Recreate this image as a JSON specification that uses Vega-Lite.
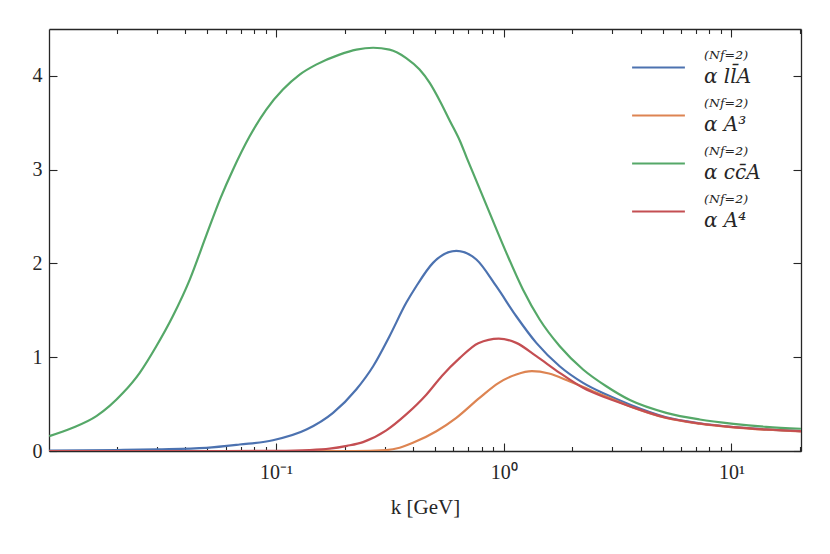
{
  "$schema": "https://vega.github.io/schema/vega-lite/v6.json",
  "width": 752,
  "height": 422,
  "autosize": {"type": "none"},
  "padding": {"left": 49, "top": 29, "right": 29, "bottom": 103},
  "config": {
    "font": "Liberation Serif",
    "view": {"stroke": null},
    "axis": {
      "grid": false,
      "domainColor": "#262626",
      "domainWidth": 1.3,
      "tickColor": "#262626",
      "tickWidth": 1.1,
      "labelColor": "#262626",
      "labelFontSize": 20,
      "labelFlush": false,
      "labelOverlap": false,
      "titleColor": "#262626",
      "titleFontWeight": "normal"
    }
  },
  "data": {
    "values": [
      {"s": "llA", "k": 0.0101, "v": 0.004},
      {"s": "llA", "k": 0.02, "v": 0.01},
      {"s": "llA", "k": 0.03, "v": 0.018},
      {"s": "llA", "k": 0.0494, "v": 0.034},
      {"s": "llA", "k": 0.0692, "v": 0.069},
      {"s": "llA", "k": 0.0969, "v": 0.115},
      {"s": "llA", "k": 0.136, "v": 0.229},
      {"s": "llA", "k": 0.178, "v": 0.407},
      {"s": "llA", "k": 0.225, "v": 0.656},
      {"s": "llA", "k": 0.267, "v": 0.904},
      {"s": "llA", "k": 0.315, "v": 1.224},
      {"s": "llA", "k": 0.373, "v": 1.58},
      {"s": "llA", "k": 0.413, "v": 1.757},
      {"s": "llA", "k": 0.489, "v": 2.006},
      {"s": "llA", "k": 0.619, "v": 2.135},
      {"s": "llA", "k": 0.758, "v": 2.042},
      {"s": "llA", "k": 0.927, "v": 1.757},
      {"s": "llA", "k": 1.135, "v": 1.437},
      {"s": "llA", "k": 1.39, "v": 1.153},
      {"s": "llA", "k": 1.76, "v": 0.904},
      {"s": "llA", "k": 2.23, "v": 0.727},
      {"s": "llA", "k": 2.82, "v": 0.602},
      {"s": "llA", "k": 3.57, "v": 0.496},
      {"s": "llA", "k": 5.17, "v": 0.36},
      {"s": "llA", "k": 7.25, "v": 0.296},
      {"s": "llA", "k": 10.2, "v": 0.256},
      {"s": "llA", "k": 14.2, "v": 0.231},
      {"s": "llA", "k": 20.2, "v": 0.212},
      {"s": "A3", "k": 0.0101, "v": 0},
      {"s": "A3", "k": 0.1, "v": 0},
      {"s": "A3", "k": 0.22, "v": 0},
      {"s": "A3", "k": 0.305, "v": 0.01},
      {"s": "A3", "k": 0.349, "v": 0.034},
      {"s": "A3", "k": 0.399, "v": 0.087},
      {"s": "A3", "k": 0.506, "v": 0.211},
      {"s": "A3", "k": 0.619, "v": 0.354},
      {"s": "A3", "k": 0.783, "v": 0.567},
      {"s": "A3", "k": 0.951, "v": 0.727},
      {"s": "A3", "k": 1.135, "v": 0.816},
      {"s": "A3", "k": 1.33, "v": 0.851},
      {"s": "A3", "k": 1.58, "v": 0.826},
      {"s": "A3", "k": 1.94, "v": 0.744},
      {"s": "A3", "k": 2.46, "v": 0.638},
      {"s": "A3", "k": 3.03, "v": 0.549},
      {"s": "A3", "k": 3.57, "v": 0.478},
      {"s": "A3", "k": 5.17, "v": 0.352},
      {"s": "A3", "k": 7.25, "v": 0.291},
      {"s": "A3", "k": 10.2, "v": 0.252},
      {"s": "A3", "k": 14.2, "v": 0.227},
      {"s": "A3", "k": 20.2, "v": 0.209},
      {"s": "ccA", "k": 0.0101, "v": 0.158},
      {"s": "ccA", "k": 0.0128, "v": 0.247},
      {"s": "ccA", "k": 0.01626, "v": 0.371},
      {"s": "ccA", "k": 0.0213, "v": 0.62},
      {"s": "ccA", "k": 0.0252, "v": 0.834},
      {"s": "ccA", "k": 0.0298, "v": 1.117},
      {"s": "ccA", "k": 0.0352, "v": 1.437},
      {"s": "ccA", "k": 0.0418, "v": 1.828},
      {"s": "ccA", "k": 0.0494, "v": 2.3},
      {"s": "ccA", "k": 0.0571, "v": 2.7},
      {"s": "ccA", "k": 0.0647, "v": 3.0},
      {"s": "ccA", "k": 0.0766, "v": 3.356},
      {"s": "ccA", "k": 0.0906, "v": 3.641},
      {"s": "ccA", "k": 0.1072, "v": 3.854},
      {"s": "ccA", "k": 0.127, "v": 4.014},
      {"s": "ccA", "k": 0.15, "v": 4.12},
      {"s": "ccA", "k": 0.19, "v": 4.227},
      {"s": "ccA", "k": 0.2254, "v": 4.28},
      {"s": "ccA", "k": 0.267, "v": 4.3},
      {"s": "ccA", "k": 0.315, "v": 4.28},
      {"s": "ccA", "k": 0.373, "v": 4.19},
      {"s": "ccA", "k": 0.427, "v": 4.067},
      {"s": "ccA", "k": 0.473, "v": 3.925},
      {"s": "ccA", "k": 0.525, "v": 3.73},
      {"s": "ccA", "k": 0.581, "v": 3.516},
      {"s": "ccA", "k": 0.643, "v": 3.303},
      {"s": "ccA", "k": 0.688, "v": 3.126},
      {"s": "ccA", "k": 0.733, "v": 2.966},
      {"s": "ccA", "k": 0.867, "v": 2.539},
      {"s": "ccA", "k": 1.027, "v": 2.113},
      {"s": "ccA", "k": 1.214, "v": 1.722},
      {"s": "ccA", "k": 1.438, "v": 1.402},
      {"s": "ccA", "k": 1.762, "v": 1.117},
      {"s": "ccA", "k": 2.23, "v": 0.869},
      {"s": "ccA", "k": 2.82, "v": 0.69},
      {"s": "ccA", "k": 3.6, "v": 0.54},
      {"s": "ccA", "k": 5.17, "v": 0.407},
      {"s": "ccA", "k": 7.25, "v": 0.336},
      {"s": "ccA", "k": 10.2, "v": 0.29},
      {"s": "ccA", "k": 14.2, "v": 0.258},
      {"s": "ccA", "k": 20.2, "v": 0.237},
      {"s": "A4", "k": 0.0101, "v": 0},
      {"s": "A4", "k": 0.06, "v": 0},
      {"s": "A4", "k": 0.1, "v": 0.002},
      {"s": "A4", "k": 0.14, "v": 0.01},
      {"s": "A4", "k": 0.172, "v": 0.025},
      {"s": "A4", "k": 0.205, "v": 0.055},
      {"s": "A4", "k": 0.241, "v": 0.095},
      {"s": "A4", "k": 0.305, "v": 0.22},
      {"s": "A4", "k": 0.373, "v": 0.39},
      {"s": "A4", "k": 0.457, "v": 0.6},
      {"s": "A4", "k": 0.535, "v": 0.8},
      {"s": "A4", "k": 0.64, "v": 0.99},
      {"s": "A4", "k": 0.773, "v": 1.15},
      {"s": "A4", "k": 0.951, "v": 1.199},
      {"s": "A4", "k": 1.135, "v": 1.153},
      {"s": "A4", "k": 1.39, "v": 1.011},
      {"s": "A4", "k": 1.76, "v": 0.834},
      {"s": "A4", "k": 2.23, "v": 0.674},
      {"s": "A4", "k": 2.82, "v": 0.567},
      {"s": "A4", "k": 3.57, "v": 0.478},
      {"s": "A4", "k": 5.17, "v": 0.354},
      {"s": "A4", "k": 7.25, "v": 0.293},
      {"s": "A4", "k": 10.2, "v": 0.254},
      {"s": "A4", "k": 14.2, "v": 0.229},
      {"s": "A4", "k": 20.2, "v": 0.211}
    ]
  },
  "layer": [
    {
      "mark": {"type": "line", "strokeWidth": 2.2, "interpolate": "monotone", "clip": true},
      "encoding": {
        "x": {
          "field": "k",
          "type": "quantitative",
          "scale": {"type": "log", "domain": [0.01007, 20.2], "nice": false},
          "axis": {
            "orient": "bottom",
            "values": [0.1, 1, 10],
            "labelExpr": "datum.value == 0.1 ? '10⁻¹' : datum.value == 1 ? '10⁰' : '10¹'",
            "tickSize": -8,
            "labelPadding": 19,
            "title": "k [GeV]",
            "titleFontSize": 21,
            "titlePadding": 14
          }
        },
        "y": {
          "field": "v",
          "type": "quantitative",
          "scale": {"domain": [0, 4.5], "nice": false},
          "axis": {
            "orient": "left",
            "values": [0, 1, 2, 3, 4],
            "tickSize": -8,
            "labelPadding": 15,
            "title": null
          }
        },
        "color": {
          "field": "s",
          "type": "nominal",
          "scale": {"domain": ["llA", "A3", "ccA", "A4"], "range": ["#4c72b0", "#dd8452", "#55a868", "#c44e52"]},
          "legend": {
            "orient": "none",
            "legendX": 584,
            "legendY": 13,
            "title": null,
            "symbolType": "M-1.1,0H1.1",
            "symbolSize": 2304,
            "symbolStrokeWidth": 2.2,
            "labelFont": "DejaVu Serif",
            "labelFontSize": 20,
            "labelFontStyle": "italic",
            "labelColor": "#262626",
            "labelOffset": 20,
            "labelLimit": 0,
            "rowPadding": 3,
            "labelExpr": "datum.label == 'llA' ? ['\u2002\u2002⁽ᴺᶠ⁼²⁾', 'α ll̄A'] : datum.label == 'A3' ? ['\u2002\u2002⁽ᴺᶠ⁼²⁾', 'α A³'] : datum.label == 'ccA' ? ['\u2002\u2002⁽ᴺᶠ⁼²⁾', 'α cc̄A'] : ['\u2002\u2002⁽ᴺᶠ⁼²⁾', 'α A⁴']",
            "encode": {"labels": {"update": {"lineHeight": {"value": 17}, "dy": {"value": -7.5}}}}
          }
        }
      }
    },
    {
      "mark": {"type": "line", "opacity": 0},
      "encoding": {
        "x": {
          "field": "k",
          "type": "quantitative",
          "axis": {
            "orient": "bottom",
            "values": [0.02, 0.03, 0.04, 0.05, 0.06, 0.07, 0.08, 0.09, 0.2, 0.3, 0.4, 0.5, 0.6, 0.7, 0.8, 0.9, 2, 3, 4, 5, 6, 7, 8, 9, 20],
            "labels": false,
            "domain": false,
            "tickSize": -4.5,
            "title": null
          }
        },
        "y": {
          "field": "v",
          "type": "quantitative",
          "axis": {"orient": "right", "values": [0, 1, 2, 3, 4], "labels": false, "tickSize": -8, "title": null}
        },
        "detail": {"field": "s"}
      }
    },
    {
      "mark": {"type": "line", "opacity": 0},
      "encoding": {
        "x": {
          "field": "k",
          "type": "quantitative",
          "axis": {"orient": "top", "values": [0.1, 1, 10], "labels": false, "tickSize": -8, "title": null}
        },
        "y": {"field": "v", "type": "quantitative", "axis": null},
        "detail": {"field": "s"}
      }
    },
    {
      "mark": {"type": "line", "opacity": 0},
      "encoding": {
        "x": {
          "field": "k",
          "type": "quantitative",
          "axis": {
            "orient": "top",
            "values": [0.02, 0.03, 0.04, 0.05, 0.06, 0.07, 0.08, 0.09, 0.2, 0.3, 0.4, 0.5, 0.6, 0.7, 0.8, 0.9, 2, 3, 4, 5, 6, 7, 8, 9, 20],
            "labels": false,
            "domain": false,
            "tickSize": -4.5,
            "title": null
          }
        },
        "y": {"field": "v", "type": "quantitative", "axis": null},
        "detail": {"field": "s"}
      }
    }
  ],
  "resolve": {"axis": {"x": "independent", "y": "independent"}}
}
